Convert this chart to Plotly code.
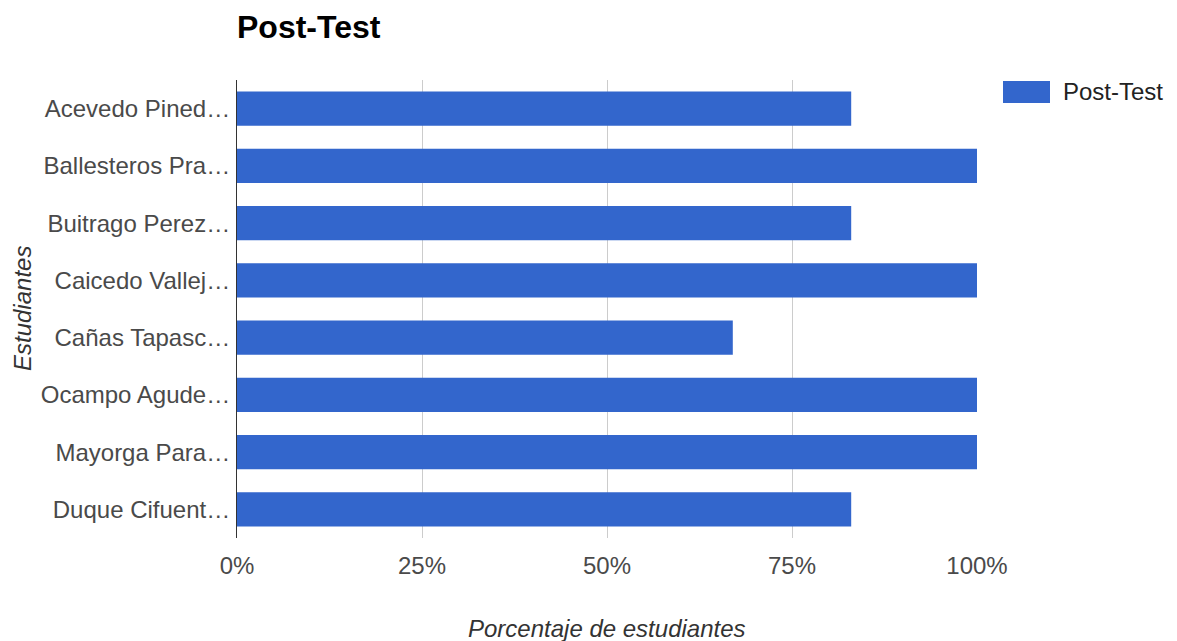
import plotly.graph_objects as go

estudiantes = ["Acevedo Pined…", "Ballesteros Pra…", "Buitrago Perez…", "Caicedo Vallej…",
               "Cañas Tapasc…", "Ocampo Agude…", "Mayorga Para…", "Duque Cifuent…"]
post_test = [0.83, 1.0, 0.83, 1.0, 0.67, 1.0, 1.0, 0.83]
x_ticks = [0, 0.25, 0.5, 0.75, 1.0]
x_tick_labels = ["0%", "25%", "50%", "75%", "100%"]

FONT = "Arial, 'Liberation Sans', sans-serif"
BLUE = "#3366cc"

fig = go.Figure(go.Bar(
    y=estudiantes, x=post_test, orientation="h",
    marker=dict(color=BLUE, line=dict(width=0)),
    name="Post-Test", showlegend=False,
))

L, R, T, B = 237, 200, 80, 103
W, H = 1177, 641
pw = W - L - R
ph = H - T - B

fig.update_layout(
    width=W, height=H,
    margin=dict(l=L, r=R, t=T, b=B, autoexpand=False),
    paper_bgcolor="white", plot_bgcolor="white",
    font=dict(family=FONT, size=24, color="#4a4a4a"),
    bargap=0.4,
    title=dict(text="<b>Post-Test</b>", x=L / W, xanchor="left", xref="container",
               y=1 - 27 / H, yanchor="middle", yref="container",
               font=dict(family=FONT, size=32, color="#000")),
    xaxis=dict(range=[0, 1], tickvals=x_ticks, ticktext=x_tick_labels,
               showgrid=True, gridcolor="#cccccc", gridwidth=1,
               zeroline=False, showline=False, ticks="",
               ticklabelstandoff=11, fixedrange=True),
    yaxis=dict(autorange="reversed", showgrid=False, showline=True,
               linecolor="#333333", linewidth=1, ticks="",
               ticklabelstandoff=1, fixedrange=True),
)

# axis titles
fig.add_annotation(text="<i>Porcentaje de estudiantes</i>", xref="paper", yref="paper",
                   x=0.5, y=(T + ph - 628) / ph, xanchor="center", yanchor="middle",
                   showarrow=False, font=dict(family=FONT, size=24, color="#333"))
fig.add_annotation(text="<i>Estudiantes</i>", xref="paper", yref="paper",
                   x=(22 - L) / pw, y=0.5, xanchor="center", yanchor="middle",
                   textangle=-90, showarrow=False,
                   font=dict(family=FONT, size=24, color="#333"))

# legend
fig.add_shape(type="rect", xref="paper", yref="paper",
              x0=(1003 - L) / pw, x1=(1050 - L) / pw,
              y0=(T + ph - 103) / ph, y1=(T + ph - 81) / ph,
              fillcolor=BLUE, line=dict(width=0))
fig.add_annotation(text="Post-Test", xref="paper", yref="paper",
                   x=(1061 - L) / pw, y=(T + ph - 92) / ph,
                   xanchor="left", yanchor="middle", showarrow=False,
                   font=dict(family=FONT, size=24, color="#222"))

fig.write_html("out.html")
